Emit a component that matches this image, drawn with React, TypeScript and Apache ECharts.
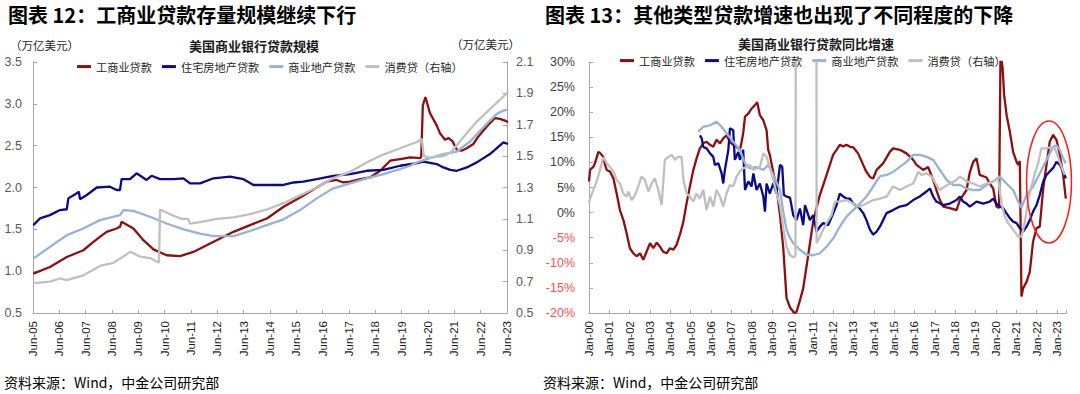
import React, { useEffect, useRef } from 'react';
import * as echarts from 'echarts';

// ---------- Left chart: stock of loans (trillion USD), x = decimal year ----------
const LEFT_START = 2005 + 5 / 12; // Jun-05
const LEFT_X_LABELS = ['Jun-05','Jun-06','Jun-07','Jun-08','Jun-09','Jun-10','Jun-11','Jun-12','Jun-13','Jun-14','Jun-15','Jun-16','Jun-17','Jun-18','Jun-19','Jun-20','Jun-21','Jun-22','Jun-23'];
const LEFT_Y_TICKS = [0.5, 1.0, 1.5, 2.0, 2.5, 3.0, 3.5];
const RIGHT_Y_TICKS = [0.5, 0.7, 0.9, 1.1, 1.3, 1.5, 1.7, 1.9, 2.1];

const ciStock = [[2005.43,0.97],[2006.06,1.05],[2006.70,1.17],[2007.33,1.25],[2007.71,1.35],[2008.21,1.47],[2008.59,1.51],[2008.72,1.53],[2008.78,1.59],[2009.23,1.51],[2009.61,1.37],[2009.99,1.26],[2010.49,1.19],[2011.00,1.18],[2011.51,1.23],[2012.01,1.31],[2012.52,1.39],[2013.03,1.47],[2013.66,1.55],[2014.30,1.63],[2014.93,1.77],[2015.56,1.88],[2016.19,2.0],[2016.57,2.07],[2016.95,2.09],[2017.20,2.06],[2017.46,2.07],[2017.84,2.1],[2018.22,2.12],[2018.60,2.2],[2018.98,2.32],[2019.36,2.34],[2019.74,2.36],[2020.12,2.35],[2020.16,2.37],[2020.22,2.98],[2020.32,3.08],[2020.49,2.89],[2020.75,2.74],[2020.87,2.65],[2021.06,2.57],[2021.20,2.59],[2021.35,2.55],[2021.51,2.45],[2021.70,2.44],[2021.89,2.47],[2022.14,2.52],[2022.33,2.61],[2022.52,2.68],[2022.77,2.77],[2022.96,2.83],[2023.15,2.82],[2023.34,2.80],[2023.45,2.78]];
const resiStock = [[2005.43,1.55],[2005.68,1.63],[2006.06,1.67],[2006.44,1.73],[2006.70,1.74],[2006.76,1.87],[2007.08,1.93],[2007.16,1.95],[2007.20,1.86],[2007.46,1.91],[2007.84,2.0],[2008.34,2.01],[2008.59,1.97],[2008.72,1.97],[2008.78,2.1],[2009.10,2.1],[2009.35,2.17],[2009.73,2.09],[2009.92,2.14],[2010.24,2.1],[2010.75,2.1],[2011.13,2.11],[2011.38,2.05],[2011.76,2.05],[2012.27,2.11],[2012.90,2.13],[2013.41,2.1],[2013.79,2.03],[2014.29,2.03],[2014.93,2.03],[2015.31,2.06],[2015.68,2.07],[2016.19,2.1],[2016.82,2.14],[2017.46,2.16],[2018.09,2.2],[2018.72,2.21],[2019.36,2.26],[2019.99,2.29],[2020.24,2.31],[2020.75,2.28],[2021.00,2.24],[2021.26,2.21],[2021.51,2.2],[2021.89,2.24],[2022.27,2.3],[2022.77,2.4],[2023.28,2.54],[2023.45,2.52]];
const creStock = [[2005.43,1.15],[2006.06,1.29],[2006.70,1.43],[2007.33,1.51],[2007.96,1.61],[2008.72,1.67],[2008.85,1.73],[2009.23,1.72],[2009.86,1.65],[2010.49,1.57],[2011.13,1.5],[2011.76,1.45],[2012.27,1.42],[2013.03,1.42],[2013.66,1.48],[2014.29,1.55],[2014.93,1.62],[2015.56,1.73],[2016.19,1.87],[2016.82,1.99],[2017.46,2.05],[2018.09,2.11],[2018.72,2.16],[2019.36,2.22],[2019.74,2.26],[2019.99,2.3],[2020.49,2.35],[2021.00,2.4],[2021.51,2.43],[2022.02,2.55],[2022.40,2.68],[2022.77,2.8],[2023.03,2.88],[2023.28,2.92],[2023.45,2.93]];
const consStock = [[2005.43,0.69],[2006.06,0.7],[2006.44,0.72],[2006.70,0.71],[2007.33,0.74],[2007.96,0.8],[2008.47,0.82],[2008.85,0.86],[2009.10,0.89],[2009.48,0.86],[2009.86,0.85],[2010.20,0.82],[2010.24,1.16],[2010.75,1.12],[2011.06,1.1],[2011.30,1.1],[2011.38,1.07],[2011.76,1.08],[2012.39,1.1],[2013.03,1.11],[2013.66,1.13],[2014.30,1.16],[2014.93,1.2],[2015.56,1.25],[2016.19,1.3],[2016.82,1.36],[2017.46,1.4],[2018.09,1.46],[2018.72,1.51],[2019.36,1.55],[2019.99,1.59],[2020.18,1.61],[2020.26,1.50],[2020.50,1.49],[2021.00,1.50],[2021.26,1.52],[2021.76,1.62],[2022.27,1.72],[2022.77,1.80],[2023.28,1.88],[2023.45,1.91]];

// ---------- Right chart: YoY growth (%), x = decimal year ----------
const RIGHT_X_MIN = 2000;
const RIGHT_X_MAX = 2023.45;

const ciYoY = [[2000.00,6.2],[2000.05,8.5],[2000.21,9.1],[2000.29,9.8],[2000.38,11.0],[2000.46,12.1],[2000.54,11.9],[2000.70,11.1],[2000.79,9.5],[2000.87,8.5],[2001.03,8.2],[2001.20,6.8],[2001.36,3.8],[2001.52,0.5],[2001.69,-1.5],[2001.85,-4.1],[2002.01,-7.1],[2002.18,-8.1],[2002.34,-8.7],[2002.51,-8.1],[2002.67,-9.4],[2002.83,-7.8],[2003.00,-6.1],[2003.16,-7.1],[2003.33,-6.0],[2003.49,-6.8],[2003.65,-7.8],[2003.82,-8.1],[2003.98,-7.1],[2004.14,-7.4],[2004.31,-6.4],[2004.47,-4.4],[2004.64,-1.8],[2004.80,1.9],[2004.96,5.2],[2005.13,8.5],[2005.29,10.8],[2005.45,12.8],[2005.62,13.8],[2005.78,14.1],[2005.95,13.5],[2006.11,13.1],[2006.27,14.5],[2006.44,13.8],[2006.60,14.8],[2006.76,15.4],[2006.93,14.1],[2007.09,13.5],[2007.26,13.1],[2007.42,12.5],[2007.50,14.0],[2007.58,15.8],[2007.67,19.1],[2007.83,19.7],[2007.99,20.7],[2008.16,21.4],[2008.27,22.0],[2008.40,19.4],[2008.57,18.4],[2008.73,16.4],[2008.81,12.5],[2008.89,11.5],[2009.06,8.0],[2009.22,4.9],[2009.39,-0.5],[2009.55,-7.0],[2009.71,-17.0],[2009.88,-18.9],[2010.00,-19.5],[2010.10,-20.0],[2010.20,-19.8],[2010.37,-17.5],[2010.53,-15.1],[2010.78,-8.4],[2011.02,-1.8],[2011.19,1.0],[2011.35,3.5],[2011.68,7.5],[2012.00,11.5],[2012.17,12.5],[2012.33,13.5],[2012.50,13.2],[2012.66,13.5],[2012.83,13.1],[2012.99,13.0],[2013.23,11.8],[2013.48,9.5],[2013.64,8.1],[2013.81,7.1],[2013.97,6.8],[2014.14,8.5],[2014.46,9.8],[2014.79,12.1],[2014.95,12.8],[2015.28,12.5],[2015.61,11.8],[2015.94,10.5],[2016.10,9.5],[2016.43,8.5],[2016.67,9.1],[2016.92,6.5],[2017.08,4.5],[2017.25,2.5],[2017.41,1.2],[2017.74,0.9],[2018.07,0.5],[2018.23,2.5],[2018.56,4.5],[2018.72,8.0],[2018.89,10.1],[2019.05,10.8],[2019.21,7.5],[2019.54,7.0],[2019.70,5.8],[2019.87,4.8],[2020.03,1.2],[2020.16,0.9],[2020.23,31.5],[2020.33,29.0],[2020.41,23.4],[2020.53,19.4],[2020.69,16.1],[2020.85,12.1],[2021.02,10.1],[2021.10,9.5],[2021.18,10.3],[2021.26,-16.7],[2021.34,-15.1],[2021.51,-13.8],[2021.67,-11.8],[2021.83,-5.8],[2022.00,-3.1],[2022.16,-2.8],[2022.33,4.8],[2022.49,9.5],[2022.65,14.1],[2022.82,15.5],[2022.98,14.5],[2023.15,11.5],[2023.31,7.5],[2023.44,2.8]];
const resiYoY = [[2005.45,15.4],[2005.54,14.8],[2005.62,13.1],[2005.78,12.8],[2005.95,11.8],[2006.11,11.1],[2006.19,9.5],[2006.36,9.8],[2006.52,7.8],[2006.60,5.8],[2006.68,8.5],[2006.85,12.5],[2006.93,16.8],[2007.09,16.4],[2007.17,10.5],[2007.34,12.1],[2007.42,10.5],[2007.58,12.5],[2007.67,4.5],[2007.83,6.2],[2007.99,5.2],[2008.08,7.8],[2008.24,4.5],[2008.40,5.8],[2008.57,3.2],[2008.65,0.2],[2008.73,5.8],[2008.89,3.8],[2009.06,5.8],[2009.22,3.8],[2009.39,9.5],[2009.50,9.1],[2009.58,3.5],[2009.71,3.2],[2009.88,3.0],[2010.04,-0.5],[2010.20,-1.5],[2010.37,0.8],[2010.53,-2.5],[2010.62,1.5],[2010.86,-1.5],[2011.02,-0.5],[2011.19,-3.8],[2011.35,-2.8],[2011.51,-2.1],[2011.76,-2.5],[2012.01,-0.1],[2012.17,1.5],[2012.33,3.8],[2012.50,3.2],[2012.66,2.8],[2012.83,2.8],[2012.99,1.8],[2013.23,1.2],[2013.48,-0.1],[2013.64,-1.5],[2013.81,-3.4],[2013.97,-4.4],[2014.14,-3.8],[2014.30,-2.8],[2014.46,-1.5],[2014.63,-0.1],[2014.95,0.5],[2015.28,1.2],[2015.61,1.5],[2015.94,2.5],[2016.26,3.2],[2016.59,4.2],[2016.76,4.8],[2016.92,3.2],[2017.08,2.2],[2017.41,1.5],[2017.74,1.8],[2018.07,2.5],[2018.23,3.2],[2018.39,2.2],[2018.56,1.8],[2018.72,1.2],[2019.05,2.2],[2019.38,1.8],[2019.70,2.2],[2019.87,2.8],[2020.03,1.8],[2020.20,1.2],[2020.36,0.9],[2020.52,-0.1],[2020.69,-1.1],[2020.85,-1.8],[2021.02,-2.1],[2021.18,-3.1],[2021.34,-3.8],[2021.51,-2.8],[2021.67,-1.5],[2021.83,0.2],[2022.00,1.5],[2022.16,3.5],[2022.33,6.2],[2022.49,7.5],[2022.65,8.2],[2022.82,8.9],[2022.98,10.1],[2023.15,9.5],[2023.31,8.2],[2023.44,6.8]];
const creYoY = [[2005.37,16.1],[2005.62,17.1],[2005.95,17.4],[2006.27,18.1],[2006.52,17.1],[2006.76,15.8],[2007.09,14.1],[2007.42,12.5],[2007.67,9.8],[2007.91,8.8],[2008.24,9.1],[2008.57,8.5],[2008.81,9.5],[2009.06,7.5],[2009.39,4.5],[2009.55,0.2],[2009.71,-3.4],[2009.88,-5.0],[2010.04,-6.1],[2010.37,-7.4],[2010.70,-8.4],[2011.02,-8.5],[2011.35,-8.1],[2011.68,-6.8],[2012.01,-5.1],[2012.33,-2.8],[2012.66,-0.8],[2012.99,0.5],[2013.32,1.8],[2013.64,3.2],[2013.97,5.2],[2014.30,7.2],[2014.63,7.5],[2014.95,8.1],[2015.28,9.1],[2015.61,10.1],[2015.94,11.5],[2016.26,11.5],[2016.59,11.1],[2016.92,10.5],[2017.25,8.5],[2017.58,6.5],[2017.90,5.5],[2018.23,5.5],[2018.56,4.8],[2018.89,4.5],[2019.21,4.5],[2019.54,5.5],[2019.87,6.2],[2020.20,7.2],[2020.52,5.8],[2020.85,4.5],[2021.10,2.2],[2021.26,1.0],[2021.51,3.5],[2021.83,5.2],[2022.16,7.8],[2022.49,10.5],[2022.82,13.1],[2022.98,13.4],[2023.15,12.5],[2023.31,10.8],[2023.44,9.8]];
const consYoY = [[2000.00,1.9],[2000.05,2.8],[2000.21,4.5],[2000.38,6.2],[2000.54,8.5],[2000.70,11.0],[2000.79,10.5],[2000.87,9.8],[2001.03,9.1],[2001.20,8.2],[2001.36,6.5],[2001.52,5.8],[2001.69,3.8],[2001.85,3.2],[2001.93,4.2],[2002.10,2.5],[2002.26,3.5],[2002.42,5.2],[2002.59,7.2],[2002.75,6.5],[2002.92,4.2],[2003.08,5.8],[2003.24,6.8],[2003.41,4.5],[2003.57,1.5],[2003.73,10.5],[2003.90,11.1],[2004.06,11.5],[2004.23,10.5],[2004.39,11.1],[2004.55,11.1],[2004.64,6.5],[2004.80,3.8],[2004.96,3.2],[2005.13,2.2],[2005.29,3.8],[2005.45,2.8],[2005.62,4.5],[2005.78,0.5],[2005.95,3.2],[2006.11,1.2],[2006.27,4.5],[2006.44,3.2],[2006.60,1.2],[2006.76,3.8],[2006.93,5.5],[2007.09,5.2],[2007.26,7.2],[2007.42,8.2],[2007.58,8.8],[2007.75,9.1],[2007.91,9.5],[2008.08,8.5],[2008.24,8.8],[2008.40,9.1],[2008.57,11.8],[2008.73,11.1],[2008.89,9.1],[2009.06,6.5],[2009.22,3.8],[2009.39,1.5],[2009.55,-3.1],[2009.71,-6.8],[2009.88,-8.5],[2010.04,-8.9],[2010.15,-8.7],[2010.17,45],[2011.18,45],[2011.19,-6.1],[2011.35,-4.8],[2011.51,-3.4],[2011.68,-2.1],[2011.92,-0.5],[2012.09,2.2],[2012.33,2.2],[2012.66,2.5],[2012.99,1.8],[2013.32,1.2],[2013.64,1.8],[2013.97,2.5],[2014.30,2.8],[2014.63,3.2],[2014.95,5.2],[2015.28,4.5],[2015.61,5.2],[2015.94,5.8],[2016.18,8.1],[2016.35,7.5],[2016.59,7.8],[2016.84,7.2],[2017.08,5.5],[2017.25,4.5],[2017.49,5.2],[2017.74,5.8],[2018.07,6.5],[2018.23,7.2],[2018.39,6.8],[2018.56,6.2],[2018.89,5.8],[2019.21,5.2],[2019.54,5.8],[2019.87,6.2],[2020.11,6.8],[2020.28,1.8],[2020.44,-0.8],[2020.61,-2.1],[2020.85,-3.4],[2021.10,-4.8],[2021.26,-4.8],[2021.42,-2.1],[2021.59,2.5],[2021.75,5.2],[2021.92,7.8],[2022.08,9.8],[2022.24,12.8],[2022.49,12.8],[2022.74,13.1],[2022.90,12.8],[2023.06,11.1],[2023.23,9.1],[2023.39,7.5]];

const SERIES_NAMES = ['工商业贷款', '住宅房地产贷款', '商业地产贷款', '消费贷（右轴）'];
const COLORS = ['#8E0F0F', '#0A0A8A', '#95B3D7', '#BFBFBF'];

const NUM_FONT = '"Liberation Sans", Arial, sans-serif';
const CJK_FONT = '"Noto Sans CJK SC", "Liberation Sans", sans-serif';
const AXIS_GRAY = '#A6A6A6';

const toLeft = (arr: number[][]) => arr.map(([y, v]) => [y - LEFT_START, v]);

export default function App() {
  const ref = useRef<HTMLDivElement>(null);
  useEffect(() => {
    document.body.style.margin = '0';
    const chart = echarts.init(ref.current!, null, { renderer: 'svg' });
    const line = (name: string, idx: number, data: number[][], xAxisIndex: number, yAxisIndex: number) => ({
      name, type: 'line', data, xAxisIndex, yAxisIndex, symbol: 'none', showSymbol: false,
      lineStyle: { color: COLORS[idx], width: 2.3 }, itemStyle: { color: COLORS[idx] }, clip: true, z: 2 + idx,
    });
    const xLabel = {
      rotate: 90, margin: 8, fontSize: 11.5, color: '#1A1A1A', fontFamily: NUM_FONT,
    };
    const legendBase = {
      data: SERIES_NAMES, icon: 'rect', itemWidth: 14, itemHeight: 3, itemGap: 10,
      textStyle: { fontSize: 11.2, color: '#262626', fontFamily: CJK_FONT }, selectedMode: false,
    };
    const option: any = {
      animation: false,
      backgroundColor: '#FFFFFF',
      grid: [
        { left: 33, top: 62, width: 474, height: 251 },
        { left: 589, top: 62, width: 477, height: 251 },
      ],
      legend: [
        { ...legendBase, left: 72, top: 56 },
        { ...legendBase, left: 615, top: 50 },
      ],
      xAxis: [
        {
          gridIndex: 0, type: 'value', min: 0, max: LEFT_X_LABELS.length - 1, interval: 1,
          axisLine: { onZero: false, lineStyle: { color: AXIS_GRAY, width: 1 } },
          axisTick: { inside: true, length: 3, lineStyle: { color: AXIS_GRAY } },
          splitLine: { show: false },
          axisLabel: { ...xLabel, formatter: (v: number) => LEFT_X_LABELS[Math.round(v)] ?? '' },
        },
        {
          gridIndex: 1, type: 'value', min: RIGHT_X_MIN, max: RIGHT_X_MAX, interval: 1,
          axisLine: { show: false }, axisTick: { show: false }, splitLine: { show: false },
          axisLabel: {
            ...xLabel,
            formatter: (v: number) => Number.isInteger(v) ? 'Jan-' + String(v % 100).padStart(2, '0') : '',
          },
        },
        {
          gridIndex: 1, type: 'value', min: RIGHT_X_MIN, max: RIGHT_X_MAX, interval: 1, position: 'bottom',
          axisLine: { show: true, onZero: true, lineStyle: { color: AXIS_GRAY, width: 1 } },
          axisTick: { show: true, inside: true, length: 3, lineStyle: { color: AXIS_GRAY } },
          axisLabel: { show: false }, splitLine: { show: false },
        },
      ],
      yAxis: [
        {
          gridIndex: 0, type: 'value', position: 'left', min: 0.5, max: 3.5, interval: 0.5,
          axisLine: { show: true, lineStyle: { color: AXIS_GRAY } },
          axisTick: { show: true, inside: true, length: 4, lineStyle: { color: AXIS_GRAY } },
          splitLine: { show: false },
          axisLabel: { margin: 11, fontSize: 12.5, color: '#595959', fontFamily: NUM_FONT, formatter: (v: number) => v.toFixed(1),
            customValues: LEFT_Y_TICKS },
        },
        {
          gridIndex: 0, type: 'value', position: 'right', min: 0.5, max: 2.1,
          axisLine: { show: true, lineStyle: { color: AXIS_GRAY } },
          axisTick: { show: true, inside: true, length: 4, lineStyle: { color: AXIS_GRAY }, customValues: RIGHT_Y_TICKS },
          splitLine: { show: false },
          axisLabel: { margin: 9, fontSize: 12.5, color: '#595959', fontFamily: NUM_FONT, formatter: (v: number) => v.toFixed(1),
            customValues: RIGHT_Y_TICKS },
        },
        {
          gridIndex: 1, type: 'value', position: 'left', min: -20, max: 30, interval: 5,
          axisLine: { show: true, lineStyle: { color: AXIS_GRAY } },
          axisTick: { show: true, inside: true, length: 4, lineStyle: { color: AXIS_GRAY } },
          splitLine: { show: false },
          axisLabel: {
            margin: 14, fontSize: 12.5, fontFamily: NUM_FONT,
            formatter: (v: number) => v + '%',
            color: (v: any) => (Number(v) < 0 ? '#FF4D4D' : '#404040'),
          },
        },
      ],
      series: [
        line(SERIES_NAMES[0], 0, toLeft(ciStock), 0, 0),
        line(SERIES_NAMES[1], 1, toLeft(resiStock), 0, 0),
        line(SERIES_NAMES[2], 2, toLeft(creStock), 0, 0),
        line(SERIES_NAMES[3], 3, toLeft(consStock), 0, 1),
        line(SERIES_NAMES[0], 0, ciYoY, 1, 2),
        line(SERIES_NAMES[1], 1, resiYoY, 1, 2),
        line(SERIES_NAMES[2], 2, creYoY, 1, 2),
        line(SERIES_NAMES[3], 3, consYoY, 1, 2),
      ],
      graphic: [
        { type: 'text', x: 8, y: 14, style: { text: '图表 12：工商业贷款存量规模继续下行', font: `bold 20px ${CJK_FONT}`, fill: '#000', verticalAlign: 'middle' } },
        { type: 'text', x: 545, y: 14, style: { text: '图表 13：其他类型贷款增速也出现了不同程度的下降', font: `bold 20px ${CJK_FONT}`, fill: '#000', verticalAlign: 'middle' } },
        { type: 'text', x: 254, y: 45, style: { text: '美国商业银行贷款规模', font: `bold 13px ${CJK_FONT}`, fill: '#1A1A1A', align: 'center', verticalAlign: 'middle' } },
        { type: 'text', x: 816, y: 43, style: { text: '美国商业银行贷款同比增速', font: `bold 13px ${CJK_FONT}`, fill: '#1A1A1A', align: 'center', verticalAlign: 'middle' } },
        { type: 'text', x: 10, y: 45, style: { text: '（万亿美元）', font: `11.5px ${CJK_FONT}`, fill: '#262626', verticalAlign: 'middle' } },
        { type: 'text', x: 451, y: 44, style: { text: '（万亿美元）', font: `11.5px ${CJK_FONT}`, fill: '#262626', verticalAlign: 'middle' } },
        { type: 'text', x: 4, y: 382, style: { text: '资料来源：Wind，中金公司研究部', font: `14px ${CJK_FONT}`, fill: '#000', verticalAlign: 'middle' } },
        { type: 'text', x: 543, y: 382, style: { text: '资料来源：Wind，中金公司研究部', font: `14px ${CJK_FONT}`, fill: '#000', verticalAlign: 'middle' } },
        { type: 'ellipse', z: 100, shape: { cx: 1049, cy: 182, rx: 22.5, ry: 61 }, style: { fill: 'none', stroke: '#FF1A1A', lineWidth: 1.5 } },
      ],
    };
    chart.setOption(option);
    return () => chart.dispose();
  }, []);
  return <div ref={ref} style={{ width: 1080, height: 394 }} />;
}
